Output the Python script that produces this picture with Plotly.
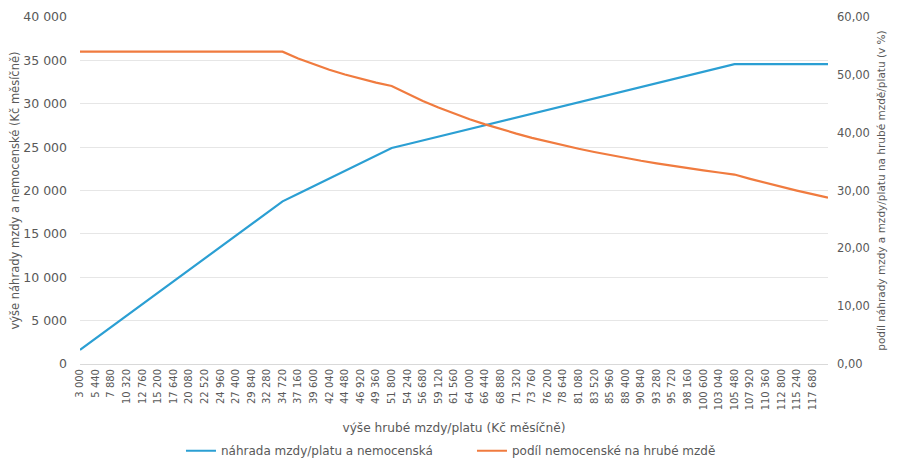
import plotly.graph_objects as go

# Gross monthly wage categories (Kč)
wages = [3000, 5440, 7880, 10320, 12760, 15200, 17640, 20080, 22520, 24960,
         27400, 29840, 32280, 34720, 37160, 39600, 42040, 44480, 46920, 49360,
         51800, 54240, 56680, 59120, 61560, 64000, 66440, 68880, 71320, 73760,
         76200, 78640, 81080, 83520, 85960, 88400, 90840, 93280, 95720, 98160,
         100600, 103040, 105480, 107920, 110360, 112800, 115240, 117680, 120120]

tick_labels = ["3 000", "5 440", "7 880", "10 320", "12 760", "15 200", "17 640",
               "20 080", "22 520", "24 960", "27 400", "29 840", "32 280", "34 720",
               "37 160", "39 600", "42 040", "44 480", "46 920", "49 360", "51 800",
               "54 240", "56 680", "59 120", "61 560", "64 000", "66 440", "68 880",
               "71 320", "73 760", "76 200", "78 640", "81 080", "83 520", "85 960",
               "88 400", "90 840", "93 280", "95 720", "98 160", "100 600", "103 040",
               "105 480", "107 920", "110 360", "112 800", "115 240", "117 680"]

# Wage compensation + sickness benefit (Kč monthly)
benefit = [1620, 2938, 4255, 5573, 6890, 8208, 9526, 10843, 12161, 13478,
           14796, 16114, 17431, 18749, 19627, 20506, 21384, 22263, 23141, 24019,
           24898, 25337, 25776, 26216, 26655, 27094, 27533, 27972, 28412, 28851,
           29290, 29729, 30168, 30608, 31047, 31486, 31925, 32364, 32804, 33243,
           33682, 34121, 34560, 34560, 34560, 34560, 34560, 34560, 34560]

# Share of benefit in gross wage (%)
share = [54.00, 54.00, 54.00, 54.00, 54.00, 54.00, 54.00, 54.00, 54.00, 54.00,
         54.00, 54.00, 54.00, 54.00, 52.82, 51.78, 50.87, 50.05, 49.32, 48.66,
         48.07, 46.71, 45.48, 44.34, 43.30, 42.33, 41.44, 40.61, 39.84, 39.11,
         38.44, 37.80, 37.21, 36.65, 36.12, 35.62, 35.14, 34.70, 34.27, 33.87,
         33.48, 33.11, 32.76, 32.02, 31.32, 30.64, 29.99, 29.37, 28.77]

BLUE = "#2b9fd3"
ORANGE = "#f07b3f"
GRAY = "#595959"
FONT = "DejaVu Sans"

fig = go.Figure()
fig.add_trace(go.Scatter(x=wages, y=benefit, mode="lines",
                         name="náhrada mzdy/platu a nemocenská",
                         line=dict(color=BLUE, width=2.2), yaxis="y"))
fig.add_trace(go.Scatter(x=wages, y=share, mode="lines",
                         name="podíl nemocenské na hrubé mzdě",
                         line=dict(color=ORANGE, width=2.2), yaxis="y2"))

fig.update_layout(
    width=889, height=455,
    margin=dict(l=72, r=69, t=9, b=99, autoexpand=False),
    paper_bgcolor="white", plot_bgcolor="white",
    separators=", ",
    font=dict(family=FONT, size=11, color=GRAY),
    showlegend=True,
    legend=dict(orientation="h", x=0.135, xanchor="left", y=-0.25, yanchor="middle",
                font=dict(size=12, color=GRAY), entrywidth=246,
                bgcolor="rgba(0,0,0,0)"),
    xaxis=dict(range=[wages[0], wages[-1]], tickmode="array",
               tickvals=wages[:len(tick_labels)], ticktext=tick_labels,
               tickangle=-90, tickfont=dict(size=10, color=GRAY),
               showgrid=False, zeroline=False, showline=True,
               linecolor="#d9d9d9", linewidth=1, ticks="", automargin=False,
               title=dict(text="výše hrubé mzdy/platu (Kč měsíčně)",
                          font=dict(size=12.2, color=GRAY), standoff=14)),
    yaxis=dict(range=[0, 40000], dtick=5000, tickformat=",d",
               showgrid=True, gridcolor="#e6e6e6", gridwidth=1,
               zeroline=False, showline=False, ticks="", automargin=False,
               ticklabelstandoff=12,
               tickfont=dict(size=12.5, color=GRAY),
               title=dict(text="výše náhrady mzdy a nemocenské (Kč měsíčně)",
                          font=dict(size=11.5, color=GRAY), standoff=3)),
    yaxis2=dict(range=[0, 60], dtick=10, tickformat=".2f", overlaying="y",
                side="right", showgrid=False, zeroline=False, showline=False,
                ticks="", automargin=False, ticklabelstandoff=8,
                tickfont=dict(size=11.5, color=GRAY),
                title=dict(text="podíl náhrady mzdy a mzdy/platu na hrubé mzdě/platu (v %)",
                           font=dict(size=10.5, color=GRAY), standoff=8)),
)

fig.write_html("out.html")
